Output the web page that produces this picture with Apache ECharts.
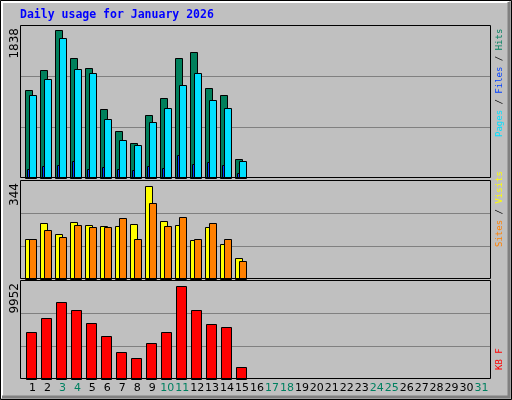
<!DOCTYPE html>
<html><head><meta charset="utf-8">
<script src="https://cdn.jsdelivr.net/npm/echarts@6/dist/echarts.min.js"></script>
<style>html,body{margin:0;padding:0;background:#c0c0c0}#c{width:512px;height:400px}</style>
</head><body><div id="c"></div>
<script>
const days = Array.from({length:31},(_,i)=>String(i+1));
const weekendDays = ['3','4','10','11','17','18','24','25','31'];
const hits  = [1094,1343,1838,1493,1368,857,582,433,782,994,1493,1567,1119,1031,233];
const files = [1031,1231,1742,1356,1306,732,470,408,695,869,1156,1306,969,869,208];
const pages = [108,146,158,208,108,133,108,96,146,121,283,171,196,158,59];
const visits= [147,206,165,210,199,195,195,203,344,214,199,143,191,128,76];
const sites = [147,180,154,199,191,191,225,150,281,195,229,150,206,147,68];
const kbytes= [5052,6468,8210,7339,5923,4617,2875,2221,3854,5052,9952,7339,5815,5488,1241];
const maxLabels = ['1838','344','9952'];

const chart = echarts.init(document.getElementById('c'));
function bars(data, grid, dx, w, color, z){
  return {type:'custom', xAxisIndex:grid, yAxisIndex:grid, z:z,
    data:data.map((v,i)=>[i,v]),
    renderItem:(params,api)=>{
      const p=api.coord([api.value(0),api.value(1)]);
      const b=api.coord([api.value(0),0]);
      const band=api.size([1,0])[0];
      const x=Math.round(p[0]-band/2+dx)+0.5;
      return {type:'rect',shape:{x:x,y:Math.round(p[1])+0.5,width:w,height:Math.round(b[1])-Math.round(p[1])},
        style:{fill:color,stroke:'#000',lineWidth:1}};
    }};
}
const gridDefs=[{top:25,height:153,max:1902},{top:180,height:99,max:367},{top:280,height:99,max:10540}];
const frames=[];
gridDefs.forEach(g=>{
  for(let k=1;k<3;k++){
    const y=Math.round(g.top+g.height*k/3)+0.5;
    frames.push({type:'line',shape:{x1:20,y1:y,x2:491,y2:y},style:{stroke:'#808080',lineWidth:1},z:-1});
  }
  frames.push({type:'rect',shape:{x:20.5,y:g.top+0.5,width:470,height:g.height-1},style:{fill:'none',stroke:'#000',lineWidth:1},z:50});
});
const f9='9px "DejaVu Sans Mono"';
const opt={
  animation:false,
  backgroundColor:'#c0c0c0',
  grid:gridDefs.map(g=>({left:25,right:23,top:g.top,height:g.height,show:false})),
  xAxis:gridDefs.map((g,i)=>({type:'category',gridIndex:i,data:days,boundaryGap:true,
    axisLine:{show:false},axisTick:{show:false},
    axisLabel:i<2?{show:false}:{show:true,margin:4,fontFamily:'DejaVu Sans',fontSize:11,color:'#000',interval:0,
      formatter:v=>weekendDays.includes(v)?'{w|'+v+'}':v,rich:{w:{color:'#008060',fontFamily:'DejaVu Sans',fontSize:11}}}})),
  yAxis:gridDefs.map((g,i)=>({type:'value',gridIndex:i,min:0,max:g.max,interval:g.max/3,
    axisLabel:{show:false},axisLine:{show:false},axisTick:{show:false},splitLine:{show:false}})),
  graphic:frames.concat([
    {type:'rect',shape:{x:0.5,y:0.5,width:511,height:399},style:{fill:'none',stroke:'#000',lineWidth:1},z:100},
    {type:'polyline',shape:{points:[[2,398],[2,2],[509,2]]},style:{stroke:'#fff',lineWidth:2,fill:'none'},z:100},
    {type:'polyline',shape:{points:[[509,2],[509,397],[2,397]]},style:{stroke:'#808080',lineWidth:3,fill:'none'},z:100},
    {type:'text',left:20,top:9,style:{text:'Daily usage for January 2026',font:'bold 11.5px "DejaVu Sans Mono"',fill:'#0000ff'}},
    {type:'text',x:9,y:28,rotation:Math.PI/2,style:{text:maxLabels[0],font:'12px "DejaVu Sans"',fill:'#000',align:'right',verticalAlign:'top'}},
    {type:'text',x:9,y:183,rotation:Math.PI/2,style:{text:maxLabels[1],font:'12px "DejaVu Sans"',fill:'#000',align:'right',verticalAlign:'top'}},
    {type:'text',x:9,y:283,rotation:Math.PI/2,style:{text:maxLabels[2],font:'12px "DejaVu Sans"',fill:'#000',align:'right',verticalAlign:'top'}},
    {type:'text',x:495,y:137,rotation:Math.PI/2,style:{rich:{c:{fill:'#00e0ff',font:f9},k:{fill:'#000',font:f9},b:{fill:'#0040ff',font:f9},g:{fill:'#008060',font:f9}},
      text:'{c|Pages}{k| / }{b|Files}{k| / }{g|Hits}',align:'left',verticalAlign:'top'}},
    {type:'text',x:495,y:247,rotation:Math.PI/2,style:{rich:{o:{fill:'#ff8000',font:f9},k:{fill:'#000',font:f9},y:{fill:'#ffff00',font:f9}},
      text:'{o|Sites}{k| / }{y|Visits}',align:'left',verticalAlign:'top'}},
    {type:'text',x:495,y:370,rotation:Math.PI/2,style:{text:'KB F',font:f9,fill:'#ff0000',align:'left',verticalAlign:'top'}}
  ]),
  series:[
    bars(hits,0,0,7,'#00805c',1),
    bars(files,0,4,7,'#00e0ff',2),
    bars(pages,0,2,2,'#0040ff',3),
    bars(visits,1,0,7,'#ffff00',1),
    bars(sites,1,4,7,'#ff8000',2),
    bars(kbytes,2,1,10,'#ff0000',1)
  ]
};
chart.setOption(opt);
</script></body></html>
